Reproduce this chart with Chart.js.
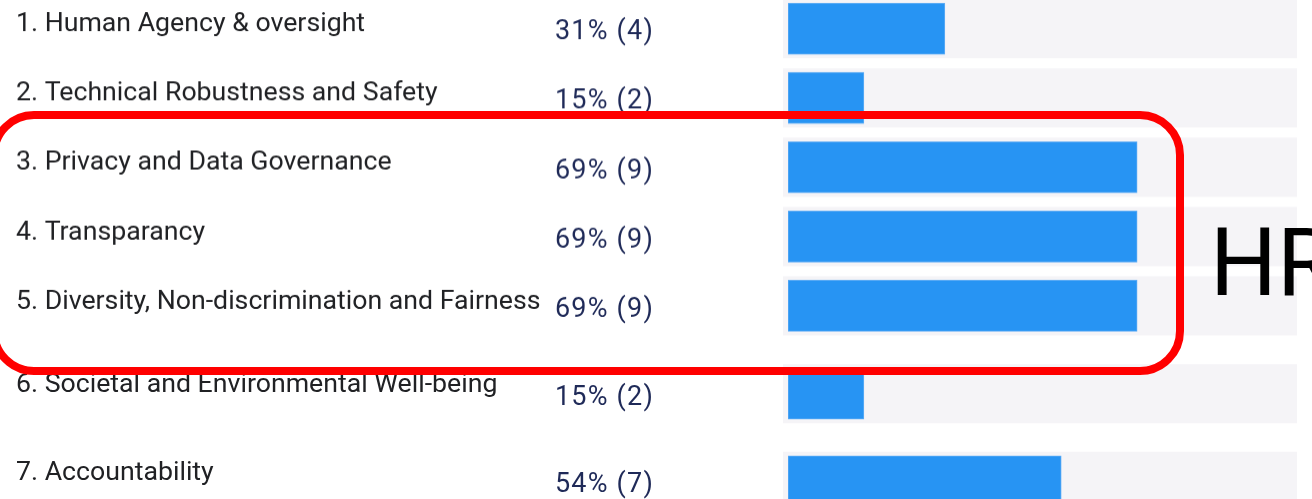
<!DOCTYPE html>
<html>
<head>
<meta charset="utf-8">
<script src="https://cdn.jsdelivr.net/npm/chart.js@4/dist/chart.umd.min.js"></script>
<style>
  html, body { margin: 0; padding: 0; background: #fff; }
  body { width: 1312px; height: 499px; position: relative; overflow: hidden; }
  .box { position: absolute; left: 0; width: 1312px; }
  #top { top: -5.75px; height: 345.5px; }
  #bottom { top: 349.75px; height: 175px; }
  #mark {
    position: absolute; left: -10px; top: 111px; width: 1194px; height: 264px;
    box-sizing: border-box; border: 8.5px solid #ff0000; border-radius: 44px;
    z-index: 5;
  }
  #hr {
    position: absolute; left: 1210px; top: 216px;
    font: 94px Roboto, sans-serif; line-height: 94px; color: #000;
    z-index: 5; white-space: nowrap;
  }
</style>
</head>
<body>
<div class="box" id="top"><canvas id="chartTop"></canvas></div>
<div class="box" id="bottom"><canvas id="chartBottom"></canvas></div>
<div id="mark"></div>
<div id="hr">HR</div>

<script>
const categorias = [
    '1. Human Agency & oversight',
    '2. Technical Robustness and Safety',
    '3. Privacy and Data Governance',
    '4. Transparancy',
    '5. Diversity, Non-discrimination and Fairness',
    '6. Societal and Environmental Well-being',
    '7. Accountability'
];
const percentagens = [31, 15, 69, 69, 69, 15, 54];
const respostas = [4, 2, 9, 9, 9, 2, 7];

// fundo cinza de cada linha + texto "31% (4)"
const trilhos = {
    id: 'trilhos',
    beforeDatasetsDraw(chart) {
        const { ctx, chartArea, scales: { y } } = chart;
        ctx.save();
        ctx.fillStyle = '#f5f4f7';
        y.ticks.forEach((t, i) => {
            const yc = y.getPixelForValue(i);
            ctx.fillRect(chartArea.left - 5, yc - 29.5, chartArea.right - chartArea.left + 8, 59);
        });
        ctx.restore();
    },
    afterDraw(chart) {
        const { ctx, scales: { y } } = chart;
        const pct = chart.data.datasets[0].data;
        const qtd = chart.options.plugins.trilhos.qtd;
        ctx.save();
        ctx.font = '27px Roboto';
        ctx.letterSpacing = '1.2px';
        ctx.fillStyle = '#1f2a58';
        ctx.textAlign = 'left';
        ctx.textBaseline = 'middle';
        pct.forEach((v, i) => {
            ctx.fillText(v + '% (' + qtd[i] + ')', 555, y.getPixelForValue(i) + 4);
        });
        ctx.restore();
    }
};

function criarGrafico(id, ini, fim, deslocamento) {
    const ctx = document.getElementById(id).getContext('2d');
    return new Chart(ctx, {
        type: 'bar',
        data: {
            labels: categorias.slice(ini, fim),
            datasets: [{
                data: percentagens.slice(ini, fim),
                backgroundColor: '#2794f3',
                borderColor: '#5eacf5',
                borderWidth: 1,
                borderSkipped: false,
                barThickness: 51
            }]
        },
        plugins: [trilhos],
        options: {
            indexAxis: 'y',
            responsive: true,
            maintainAspectRatio: false,
            animation: false,
            layout: { padding: { left: 16, right: 18, top: 0, bottom: 0 } },
            plugins: {
                legend: { display: false },
                tooltip: { enabled: false },
                trilhos: { qtd: respostas.slice(ini, fim) }
            },
            scales: {
                x: { display: false, min: 0, max: 100 },
                y: {
                    grid: { display: false },
                    border: { display: false },
                    ticks: {
                        crossAlign: 'far',
                        autoSkip: false,
                        labelOffset: deslocamento,
                        color: '#202124',
                        font: { family: 'Roboto', size: 26.7 }
                    },
                    afterFit(scale) {
                        scale.width = 772;
                        scale.paddingTop = 0;
                        scale.paddingBottom = 0;
                    }
                }
            }
        }
    });
}

criarGrafico('chartTop', 0, 5, -4);
criarGrafico('chartBottom', 5, 7, -8);
</script>
</body>
</html>
